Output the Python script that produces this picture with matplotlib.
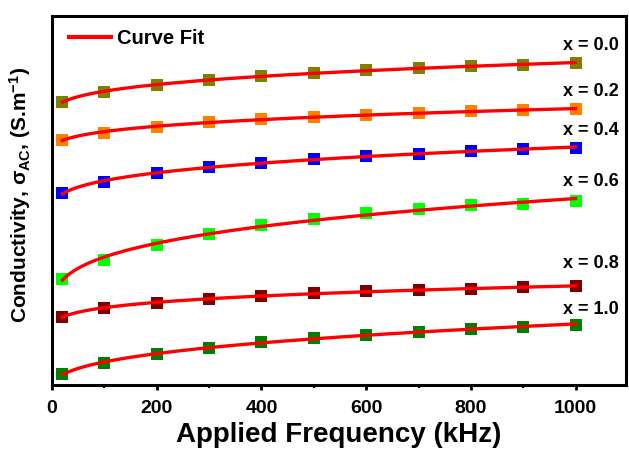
import numpy as np
import matplotlib
matplotlib.use("Agg")
import matplotlib.pyplot as plt
from matplotlib.ticker import MultipleLocator

plt.rcParams['font.family'] = ['Liberation Sans', 'DejaVu Sans']
plt.rcParams['mathtext.fontset'] = 'custom'
plt.rcParams['mathtext.rm'] = 'Liberation Sans:bold'
plt.rcParams['mathtext.it'] = 'Liberation Sans:bold'
plt.rcParams['mathtext.bf'] = 'Liberation Sans:bold'

# Data (arbitrary conductivity units)
freq = [20, 100, 200, 300, 400, 500, 600, 700, 800, 900, 1000]
labels = ["x = 0.0", "x = 0.2", "x = 0.4", "x = 0.6", "x = 0.8", "x = 1.0"]
s00 = [28.33, 29.27, 30.00, 30.53, 30.90, 31.23, 31.47, 31.70, 31.90, 32.03, 32.17]
s02 = [24.50, 25.23, 25.83, 26.27, 26.60, 26.83, 27.03, 27.20, 27.37, 27.47, 27.57]
s04 = [19.17, 20.33, 21.17, 21.77, 22.23, 22.63, 22.90, 23.13, 23.40, 23.57, 23.70]
s06 = [10.63, 12.53, 14.03, 15.10, 16.00, 16.63, 17.17, 17.60, 17.97, 18.13, 18.43]
s08 = [6.80, 7.73, 8.17, 8.63, 8.93, 9.20, 9.37, 9.50, 9.63, 9.77, 9.87]
s10 = [1.07, 2.23, 3.07, 3.73, 4.27, 4.67, 5.03, 5.33, 5.60, 5.83, 6.03]
series = [s00, s02, s04, s06, s08, s10]
colors = ["#808000", "#FF8000", "#0000FF", "#00FF00", "#800000", "#008000"]
label_y = [34.0, 29.33, 25.5, 20.33, 12.17, 7.6]


def power_fit(x, y):
    x = np.asarray(x, float)
    y = np.asarray(y, float)
    best = None
    for n in np.linspace(0.02, 1.5, 300):
        A = np.vstack([np.ones_like(x), x ** n]).T
        coef, res, *_ = np.linalg.lstsq(A, y, rcond=None)
        r = np.sum((A @ coef - y) ** 2)
        if best is None or r < best[0]:
            best = (r, n, coef)
    _, n, coef = best
    xs = np.linspace(x.min(), x.max(), 400)
    return xs, coef[0] + coef[1] * xs ** n


fig = plt.figure(figsize=(6.29, 4.5), dpi=100)
ax = fig.add_axes([0.0827, 0.1444, 0.9123, 0.82])

for s, c in zip(series, colors):
    ax.plot(freq, s, 's', color=c, markersize=8, markeredgewidth=0, zorder=2)

fit_handle = None
for s in series:
    xs, ys = power_fit(freq, s)
    fit_handle, = ax.plot(xs, ys, '-', color='#FF0000', lw=2.4, zorder=3)

for lab, ly in zip(labels, label_y):
    ax.text(1029, ly, lab, ha='center', va='center', fontsize=13,
            fontweight='bold')

ax.set_xlim(0, 1096)
ax.set_ylim(0, 36.9)
ax.xaxis.set_major_locator(MultipleLocator(200))
ax.xaxis.set_minor_locator(MultipleLocator(100))
ax.set_yticks([])
ax.tick_params(axis='x', which='major', direction='out', length=3.5, width=2,
               labelsize=14, pad=7)
ax.tick_params(axis='x', which='minor', direction='out', length=2, width=1.5)
for lab in ax.get_xticklabels():
    lab.set_fontweight('bold')
for sp in ax.spines.values():
    sp.set_linewidth(2.2)

ax.set_xlabel("Applied Frequency (kHz)", fontsize=20, fontweight='bold',
              labelpad=4)
ax.set_ylabel(r"Conductivity, $\sigma_{AC}$, (S.m$^{-1}$)", fontsize=15,
              fontweight='bold')
ax.yaxis.set_label_coords(-0.033, 0.515)

leg = ax.legend([fit_handle], ["Curve Fit"], loc='upper left',
                bbox_to_anchor=(0.03, 0.966), frameon=False, fontsize=14.5,
                handlelength=2.05, handletextpad=0.3, borderpad=0,
                borderaxespad=0)
for t in leg.get_texts():
    t.set_fontweight('bold')
leg.get_lines()[0].set_linewidth(3)

fig.savefig("out.png", dpi=100)
